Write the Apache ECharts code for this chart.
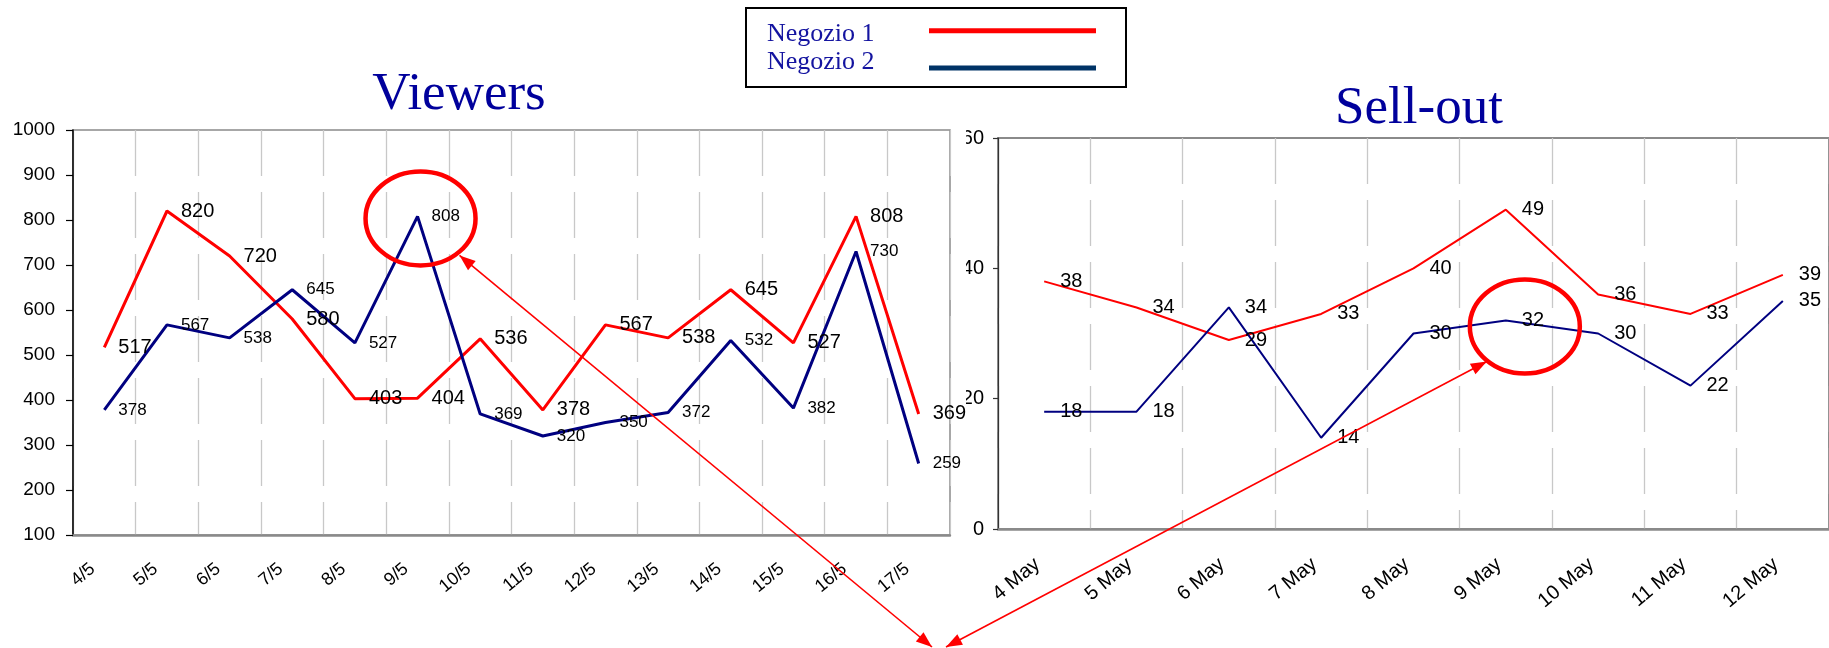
<!DOCTYPE html>
<html>
<head>
<meta charset="utf-8">
<script src="https://cdn.jsdelivr.net/npm/echarts@6/dist/echarts.min.js"></script>
<style>
  html, body { margin: 0; padding: 0; background: #ffffff; }
  #chart { width: 1829px; height: 648px; }
</style>
</head>
<body>
<div id="chart"></div>
<script>
// Store names
const seriesNames = ['Negozio 1', 'Negozio 2'];

// Viewers per day
const viewerDays = ['4/5', '5/5', '6/5', '7/5', '8/5', '9/5', '10/5', '11/5', '12/5', '13/5', '14/5', '15/5', '16/5', '17/5'];
const viewersNeg1 = [517, 820, 720, 580, 403, 404, 536, 378, 567, 538, 645, 527, 808, 369];
const viewersNeg2 = [378, 567, 538, 645, 527, 808, 369, 320, 350, 372, 532, 382, 730, 259];
const viewersTicks = [100, 200, 300, 400, 500, 600, 700, 800, 900, 1000];

// Sell-out per day
const sellDays = ['4 May', '5 May', '6 May', '7 May', '8 May', '9 May', '10 May', '11 May', '12 May'];
const sellNeg1 = [38, 34, 29, 33, 40, 49, 36, 33, 39];
const sellNeg2 = [18, 18, 34, 14, 30, 32, 30, 22, 35];
const sellTicks = [0, 20, 40, 60];

const RED = '#ff0000';
const NAVY = '#000080';
const TITLE_BLUE = '#00009c';
const SANS = '"Liberation Sans", Arial, sans-serif';
const SERIF = '"Liberation Serif", "Times New Roman", serif';

const chart = echarts.init(document.getElementById('chart'), null, { renderer: 'canvas' });

function xAxisFor(gridIndex, data, fontSize, margin, pad) {
  return {
    type: 'category',
    gridIndex: gridIndex,
    data: data,
    boundaryGap: true,
    axisLine: { show: true, lineStyle: { color: '#8a8a8a', width: 2.5 } },
    axisTick: { show: false },
    axisLabel: {
      interval: 0, rotate: 40, margin: margin, padding: [0, pad, 0, 0],
      color: '#000', fontSize: fontSize, fontFamily: SANS
    },
    splitLine: { show: true, lineStyle: { color: '#c8c8c8', width: 1.3, type: [46, 16] } }
  };
}

function yAxisFor(gridIndex, ticks, opts) {
  return {
    type: 'value',
    gridIndex: gridIndex,
    min: ticks[0],
    max: ticks[ticks.length - 1],
    interval: ticks[1] - ticks[0],
    axisLine: { show: true, lineStyle: { color: opts.lineColor, width: opts.lineWidth } },
    axisTick: { show: true, length: opts.tickLen, lineStyle: { color: opts.lineColor, width: 1.2 } },
    axisLabel: {
      color: '#000', fontSize: opts.fontSize, fontFamily: SANS, margin: opts.margin,
      formatter: function (v) { return String(v); }
    },
    splitLine: { show: false }
  };
}

function lineSeries(name, gi, data, color, width, labelSize, dist) {
  return {
    type: 'line',
    name: name,
    xAxisIndex: gi,
    yAxisIndex: gi,
    data: data,
    color: color,
    symbol: 'circle',
    symbolSize: 0,
    showSymbol: true,
    lineStyle: { color: color, width: width },
    label: {
      show: true, position: 'right', distance: dist,
      color: '#000', fontSize: labelSize, fontFamily: SANS
    },
    emphasis: { disabled: true },
    z: 3
  };
}

chart.setOption({
  animation: false,
  backgroundColor: '#ffffff',
  grid: [
    { left: 73, top: 130, width: 877, height: 405, show: true, borderColor: '#8a8a8a', borderWidth: 1.5, backgroundColor: 'transparent' },
    { left: 998, top: 138, width: 834, height: 391, show: true, borderColor: '#8a8a8a', borderWidth: 2, backgroundColor: 'transparent' }
  ],
  xAxis: [
    xAxisFor(0, viewerDays, 18, 22, 15),
    xAxisFor(1, sellDays, 20, 27, 9)
  ],
  yAxis: [
    yAxisFor(0, viewersTicks, { lineColor: '#000', lineWidth: 1.5, tickLen: 7, fontSize: 19, margin: 18 }),
    yAxisFor(1, sellTicks, { lineColor: '#333', lineWidth: 1.2, tickLen: 5, fontSize: 20, margin: 14 })
  ],
  series: [
    lineSeries(seriesNames[0], 0, viewersNeg1, RED, 3, 20, 14),
    lineSeries(seriesNames[1], 0, viewersNeg2, NAVY, 3, 17, 14),
    lineSeries(seriesNames[0], 1, sellNeg1, RED, 2, 20, 16),
    lineSeries(seriesNames[1], 1, sellNeg2, NAVY, 2, 20, 16)
  ]
});

// Annotations: titles, legend box, highlight rings and connecting arrows
function arrowHead(tip, from, len, wid) {
  const dx = tip[0] - from[0], dy = tip[1] - from[1];
  const d = Math.sqrt(dx * dx + dy * dy);
  const ux = dx / d, uy = dy / d, nx = -uy, ny = ux;
  const bx = tip[0] - ux * len, by = tip[1] - uy * len;
  return {
    type: 'polygon', z: 20, silent: true,
    shape: { points: [tip, [bx + nx * wid / 2, by + ny * wid / 2], [bx - nx * wid / 2, by - ny * wid / 2]] },
    style: { fill: RED }
  };
}

function arrow(a, b) {
  return [
    { type: 'line', z: 20, silent: true, shape: { x1: a[0], y1: a[1], x2: b[0], y2: b[1] }, style: { stroke: RED, lineWidth: 1.6 } },
    arrowHead(a, b, 16, 12),
    arrowHead(b, a, 16, 12)
  ];
}

const peakViewers = chart.convertToPixel({ seriesIndex: 1 }, [5, viewersNeg2[5]]);
const peakSell = chart.convertToPixel({ seriesIndex: 3 }, [5, sellNeg2[5]]);
const ring1 = [peakViewers[0] + 3, peakViewers[1] + 2];
const ring2 = [peakSell[0] + 19, peakSell[1] + 6];

const graphics = [
  // the Viewers panel sits over the left edge of the Sell-out tick labels
  { type: 'rect', z: 1, silent: true, shape: { x: 951.5, y: 110, width: 14.5, height: 430 }, style: { fill: '#ffffff' } },
  { type: 'text', z: 10, style: { x: 459, y: 95.5, text: 'Viewers', align: 'center', verticalAlign: 'middle', font: '53px ' + SERIF, fill: TITLE_BLUE } },
  { type: 'text', z: 10, style: { x: 1419, y: 109, text: 'Sell-out', align: 'center', verticalAlign: 'middle', font: '53px ' + SERIF, fill: TITLE_BLUE } },
  // legend
  { type: 'rect', z: 10, shape: { x: 746, y: 8, width: 380, height: 79 }, style: { fill: '#ffffff', stroke: '#000', lineWidth: 2 } },
  { type: 'text', z: 11, style: { x: 767, y: 34, text: seriesNames[0], align: 'left', verticalAlign: 'middle', font: '26px ' + SERIF, fill: '#1414a0' } },
  { type: 'text', z: 11, style: { x: 767, y: 62.5, text: seriesNames[1], align: 'left', verticalAlign: 'middle', font: '26px ' + SERIF, fill: '#1414a0' } },
  { type: 'rect', z: 11, shape: { x: 929, y: 28.2, width: 167, height: 5 }, style: { fill: RED } },
  { type: 'rect', z: 11, shape: { x: 929, y: 65.5, width: 167, height: 5 }, style: { fill: '#003366' } },
  // highlight rings
  { type: 'ellipse', z: 20, silent: true, shape: { cx: ring1[0], cy: ring1[1], rx: 55, ry: 47 }, style: { fill: 'none', stroke: RED, lineWidth: 4.5 } },
  { type: 'ellipse', z: 20, silent: true, shape: { cx: ring2[0], cy: ring2[1], rx: 55, ry: 47 }, style: { fill: 'none', stroke: RED, lineWidth: 4.5 } }
].concat(
  arrow([ring1[0] + 39, ring1[1] + 37], [932, 647]),
  arrow([ring2[0] - 38, ring2[1] + 35], [946, 647])
);

chart.setOption({ graphic: { elements: graphics } });
</script>
</body>
</html>
